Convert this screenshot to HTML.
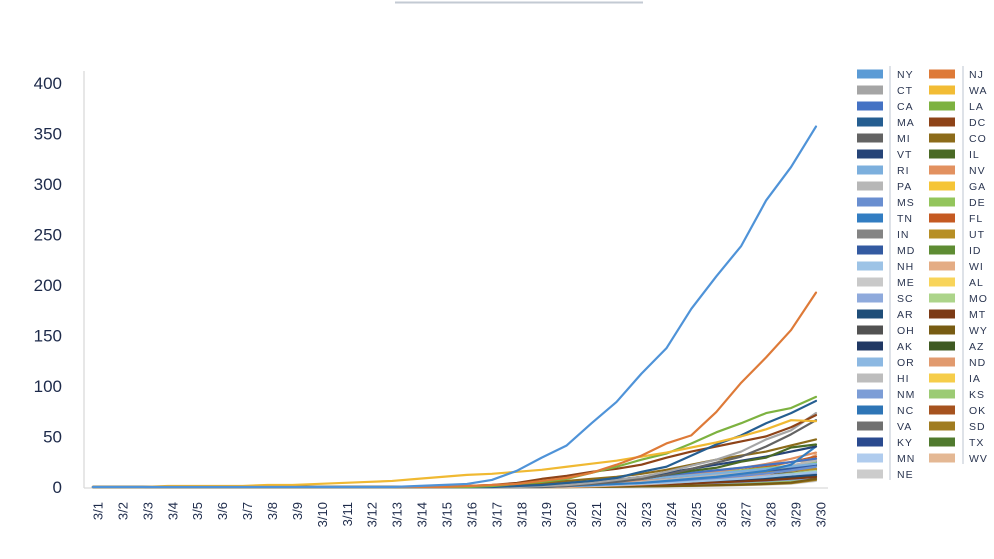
<!DOCTYPE html>
<html>
<head>
<meta charset="utf-8">
<style>
  html,body{margin:0;padding:0;background:#ffffff;}
  body{width:994px;height:559px;overflow:hidden;}
  svg{display:block;}
  .yl{font-family:"Liberation Sans",sans-serif;font-size:17px;fill:#1d2a4a;text-anchor:end;}
  .xl{font-family:"Liberation Sans",sans-serif;font-size:13px;fill:#1d2a4a;text-anchor:end;}
  .lg{font-family:"Liberation Sans",sans-serif;font-size:10.5px;fill:#2a3550;letter-spacing:1px;}
  polyline{fill:none;stroke-width:2.2;stroke-linejoin:round;stroke-linecap:round;}
</style>
</head>
<body>
<svg width="994" height="559" viewBox="0 0 994 559" xmlns="http://www.w3.org/2000/svg">
  <!-- top decorative line -->
  <line x1="395" y1="2.5" x2="643" y2="2.5" stroke="#c3cad3" stroke-width="2"/>

  <!-- axes -->
  <line x1="84" y1="71" x2="84" y2="488" stroke="#cfcfcf" stroke-width="1"/>
  <line x1="84" y1="488" x2="828" y2="488" stroke="#dadada" stroke-width="1.2"/>

  <!-- y labels -->
  <text class="yl" x="62" y="89">400</text>
  <text class="yl" x="62" y="139.5">350</text>
  <text class="yl" x="62" y="190">300</text>
  <text class="yl" x="62" y="240.5">250</text>
  <text class="yl" x="62" y="291">200</text>
  <text class="yl" x="62" y="341.5">150</text>
  <text class="yl" x="62" y="392">100</text>
  <text class="yl" x="62" y="442.5">50</text>
  <text class="yl" x="62" y="493">0</text>

  <!-- x labels -->
  <text class="xl" transform="translate(102.5,502) rotate(-90)">3/1</text>
  <text class="xl" transform="translate(127.4,502) rotate(-90)">3/2</text>
  <text class="xl" transform="translate(152.4,502) rotate(-90)">3/3</text>
  <text class="xl" transform="translate(177.3,502) rotate(-90)">3/4</text>
  <text class="xl" transform="translate(202.2,502) rotate(-90)">3/5</text>
  <text class="xl" transform="translate(227.2,502) rotate(-90)">3/6</text>
  <text class="xl" transform="translate(252.1,502) rotate(-90)">3/7</text>
  <text class="xl" transform="translate(277.0,502) rotate(-90)">3/8</text>
  <text class="xl" transform="translate(301.9,502) rotate(-90)">3/9</text>
  <text class="xl" transform="translate(326.9,502) rotate(-90)">3/10</text>
  <text class="xl" transform="translate(351.8,502) rotate(-90)">3/11</text>
  <text class="xl" transform="translate(376.7,502) rotate(-90)">3/12</text>
  <text class="xl" transform="translate(401.7,502) rotate(-90)">3/13</text>
  <text class="xl" transform="translate(426.6,502) rotate(-90)">3/14</text>
  <text class="xl" transform="translate(451.5,502) rotate(-90)">3/15</text>
  <text class="xl" transform="translate(476.5,502) rotate(-90)">3/16</text>
  <text class="xl" transform="translate(501.4,502) rotate(-90)">3/17</text>
  <text class="xl" transform="translate(526.3,502) rotate(-90)">3/18</text>
  <text class="xl" transform="translate(551.2,502) rotate(-90)">3/19</text>
  <text class="xl" transform="translate(576.2,502) rotate(-90)">3/20</text>
  <text class="xl" transform="translate(601.1,502) rotate(-90)">3/21</text>
  <text class="xl" transform="translate(626.0,502) rotate(-90)">3/22</text>
  <text class="xl" transform="translate(651.0,502) rotate(-90)">3/23</text>
  <text class="xl" transform="translate(675.9,502) rotate(-90)">3/24</text>
  <text class="xl" transform="translate(700.8,502) rotate(-90)">3/25</text>
  <text class="xl" transform="translate(725.8,502) rotate(-90)">3/26</text>
  <text class="xl" transform="translate(750.7,502) rotate(-90)">3/27</text>
  <text class="xl" transform="translate(775.6,502) rotate(-90)">3/28</text>
  <text class="xl" transform="translate(800.5,502) rotate(-90)">3/29</text>
  <text class="xl" transform="translate(825.5,502) rotate(-90)">3/30</text>

  <!-- data series -->
  <g transform="translate(93,487) scale(24.93,-1.0125)">
    <!-- small states via templates (drawn first, underneath) -->
    <polyline vector-effect="non-scaling-stroke" stroke="#CCCCCC" transform="scale(1,6)" points="0,0 19,0 20,0.02 21,0.05 22,0.08 23,0.12 24,0.17 25,0.23 26,0.3 27,0.4 28,0.55 29,1"/>
    <polyline vector-effect="non-scaling-stroke" stroke="#E4B894" transform="scale(1,30)" points="0,0 19,0 20,0.02 21,0.05 22,0.08 23,0.12 24,0.17 25,0.23 26,0.3 27,0.4 28,0.55 29,1"/>
    <polyline vector-effect="non-scaling-stroke" stroke="#B0CCEE" transform="scale(1,12)" points="0,0 17,0 18,0.03 19,0.06 20,0.1 21,0.15 22,0.21 23,0.28 24,0.36 25,0.45 26,0.55 27,0.67 28,0.82 29,1"/>
    <polyline vector-effect="non-scaling-stroke" stroke="#507A2E" transform="scale(1,14)" points="0,0 16,0 17,0.03 18,0.08 19,0.14 20,0.2 21,0.27 22,0.34 23,0.42 24,0.5 25,0.59 26,0.68 27,0.78 28,0.88 29,1"/>
    <polyline vector-effect="non-scaling-stroke" stroke="#2A4A8F" transform="scale(1,12)" points="0,0 17,0 18,0.03 19,0.06 20,0.1 21,0.15 22,0.21 23,0.28 24,0.36 25,0.45 26,0.55 27,0.67 28,0.82 29,1"/>
    <polyline vector-effect="non-scaling-stroke" stroke="#A07C20" transform="scale(1,7)" points="0,0 19,0 20,0.02 21,0.05 22,0.08 23,0.12 24,0.17 25,0.23 26,0.3 27,0.4 28,0.55 29,1"/>
    <polyline vector-effect="non-scaling-stroke" stroke="#707070" transform="scale(1,11)" points="0,0 16,0 17,0.03 18,0.08 19,0.14 20,0.2 21,0.27 22,0.34 23,0.42 24,0.5 25,0.59 26,0.68 27,0.78 28,0.88 29,1"/>
    <polyline vector-effect="non-scaling-stroke" stroke="#A6531F" transform="scale(1,15)" points="0,0 17,0 18,0.03 19,0.06 20,0.1 21,0.15 22,0.21 23,0.28 24,0.36 25,0.45 26,0.55 27,0.67 28,0.82 29,1"/>
    <polyline vector-effect="non-scaling-stroke" stroke="#2E75B6" transform="scale(1,9)" points="0,0 16,0 17,0.03 18,0.08 19,0.14 20,0.2 21,0.27 22,0.34 23,0.42 24,0.5 25,0.59 26,0.68 27,0.78 28,0.88 29,1"/>
    <polyline vector-effect="non-scaling-stroke" stroke="#9CCB74" transform="scale(1,11)" points="0,0 19,0 20,0.02 21,0.05 22,0.08 23,0.12 24,0.17 25,0.23 26,0.3 27,0.4 28,0.55 29,1"/>
    <polyline vector-effect="non-scaling-stroke" stroke="#7C9DD6" transform="scale(1,9)" points="0,0 17,0 18,0.03 19,0.06 20,0.1 21,0.15 22,0.21 23,0.28 24,0.36 25,0.45 26,0.55 27,0.67 28,0.82 29,1"/>
    <polyline vector-effect="non-scaling-stroke" stroke="#F6CD4A" transform="scale(1,13)" points="0,0 16,0 17,0.03 18,0.08 19,0.14 20,0.2 21,0.27 22,0.34 23,0.42 24,0.5 25,0.59 26,0.68 27,0.78 28,0.88 29,1"/>
    <polyline vector-effect="non-scaling-stroke" stroke="#BDBDBD" transform="scale(1,10)" points="0,0 17,0 18,0.03 19,0.06 20,0.1 21,0.15 22,0.21 23,0.28 24,0.36 25,0.45 26,0.55 27,0.67 28,0.82 29,1"/>
    <polyline vector-effect="non-scaling-stroke" stroke="#E19A6E" transform="scale(1,27)" points="0,0 19,0 20,0.02 21,0.05 22,0.08 23,0.12 24,0.17 25,0.23 26,0.3 27,0.4 28,0.55 29,1"/>
    <polyline vector-effect="non-scaling-stroke" stroke="#8CB8E2" transform="scale(1,13)" points="0,0 16,0 17,0.03 18,0.08 19,0.14 20,0.2 21,0.27 22,0.34 23,0.42 24,0.5 25,0.59 26,0.68 27,0.78 28,0.88 29,1"/>
    <polyline vector-effect="non-scaling-stroke" stroke="#3F5A22" transform="scale(1,12)" points="0,0 17,0 18,0.03 19,0.06 20,0.1 21,0.15 22,0.21 23,0.28 24,0.36 25,0.45 26,0.55 27,0.67 28,0.82 29,1"/>
    <polyline vector-effect="non-scaling-stroke" stroke="#203864" transform="scale(1,10)" points="0,0 16,0 17,0.03 18,0.08 19,0.14 20,0.2 21,0.27 22,0.34 23,0.42 24,0.5 25,0.59 26,0.68 27,0.78 28,0.88 29,1"/>
    <polyline vector-effect="non-scaling-stroke" stroke="#785C13" transform="scale(1,8)" points="0,0 19,0 20,0.02 21,0.05 22,0.08 23,0.12 24,0.17 25,0.23 26,0.3 27,0.4 28,0.55 29,1"/>
    <polyline vector-effect="non-scaling-stroke" stroke="#525252" transform="scale(1,17)" points="0,0 16,0 17,0.03 18,0.08 19,0.14 20,0.2 21,0.27 22,0.34 23,0.42 24,0.5 25,0.59 26,0.68 27,0.78 28,0.88 29,1"/>
    <polyline vector-effect="non-scaling-stroke" stroke="#7C3A15" transform="scale(1,10)" points="0,0 17,0 18,0.03 19,0.06 20,0.1 21,0.15 22,0.21 23,0.28 24,0.36 25,0.45 26,0.55 27,0.67 28,0.82 29,1"/>
    <polyline vector-effect="non-scaling-stroke" stroke="#1F4E79" transform="scale(1,12)" points="0,0 16,0 17,0.03 18,0.08 19,0.14 20,0.2 21,0.27 22,0.34 23,0.42 24,0.5 25,0.59 26,0.68 27,0.78 28,0.88 29,1"/>
    <polyline vector-effect="non-scaling-stroke" stroke="#ACD48A" transform="scale(1,16)" points="0,0 17,0 18,0.03 19,0.06 20,0.1 21,0.15 22,0.21 23,0.28 24,0.36 25,0.45 26,0.55 27,0.67 28,0.82 29,1"/>
    <polyline vector-effect="non-scaling-stroke" stroke="#8FAADC" transform="scale(1,14)" points="0,0 16,0 17,0.03 18,0.08 19,0.14 20,0.2 21,0.27 22,0.34 23,0.42 24,0.5 25,0.59 26,0.68 27,0.78 28,0.88 29,1"/>
    <polyline vector-effect="non-scaling-stroke" stroke="#F8D45A" transform="scale(1,20)" points="0,0 17,0 18,0.03 19,0.06 20,0.1 21,0.15 22,0.21 23,0.28 24,0.36 25,0.45 26,0.55 27,0.67 28,0.82 29,1"/>
    <polyline vector-effect="non-scaling-stroke" stroke="#C9C9C9" transform="scale(1,18)" points="0,0 16,0 17,0.03 18,0.08 19,0.14 20,0.2 21,0.27 22,0.34 23,0.42 24,0.5 25,0.59 26,0.68 27,0.78 28,0.88 29,1"/>
    <polyline vector-effect="non-scaling-stroke" stroke="#E4AC84" transform="scale(1,32)" points="0,0 19,0 20,0.02 21,0.05 22,0.08 23,0.12 24,0.17 25,0.23 26,0.3 27,0.4 28,0.55 29,1"/>
    <polyline vector-effect="non-scaling-stroke" stroke="#9DC3E6" transform="scale(1,15)" points="0,0 17,0 18,0.03 19,0.06 20,0.1 21,0.15 22,0.21 23,0.28 24,0.36 25,0.45 26,0.55 27,0.67 28,0.82 29,1"/>
    <polyline vector-effect="non-scaling-stroke" stroke="#5E8C33" transform="scale(1,21)" points="0,0 16,0 17,0.03 18,0.08 19,0.14 20,0.2 21,0.27 22,0.34 23,0.42 24,0.5 25,0.59 26,0.68 27,0.78 28,0.88 29,1"/>
    <polyline vector-effect="non-scaling-stroke" stroke="#335AA1" transform="scale(1,22)" points="0,0 17,0 18,0.03 19,0.06 20,0.1 21,0.15 22,0.21 23,0.28 24,0.36 25,0.45 26,0.55 27,0.67 28,0.82 29,1"/>
    <polyline vector-effect="non-scaling-stroke" stroke="#B78F25" transform="scale(1,18)" points="0,0 16,0 17,0.03 18,0.08 19,0.14 20,0.2 21,0.27 22,0.34 23,0.42 24,0.5 25,0.59 26,0.68 27,0.78 28,0.88 29,1"/>
    <polyline vector-effect="non-scaling-stroke" stroke="#848484" transform="scale(1,25)" points="0,0 17,0 18,0.03 19,0.06 20,0.1 21,0.15 22,0.21 23,0.28 24,0.36 25,0.45 26,0.55 27,0.67 28,0.82 29,1"/>
    <polyline vector-effect="non-scaling-stroke" stroke="#C55A22" transform="scale(1,30)" points="0,0 17,0 18,0.03 19,0.06 20,0.1 21,0.15 22,0.21 23,0.28 24,0.36 25,0.45 26,0.55 27,0.67 28,0.82 29,1"/>
    <polyline vector-effect="non-scaling-stroke" stroke="#93C55C" transform="scale(1,24)" points="0,0 16,0 17,0.03 18,0.08 19,0.14 20,0.2 21,0.27 22,0.34 23,0.42 24,0.5 25,0.59 26,0.68 27,0.78 28,0.88 29,1"/>
    <polyline vector-effect="non-scaling-stroke" stroke="#698ED0" transform="scale(1,20)" points="0,0 17,0 18,0.03 19,0.06 20,0.1 21,0.15 22,0.21 23,0.28 24,0.36 25,0.45 26,0.55 27,0.67 28,0.82 29,1"/>
    <polyline vector-effect="non-scaling-stroke" stroke="#F5C537" transform="scale(1,28)" points="0,0 16,0 17,0.03 18,0.08 19,0.14 20,0.2 21,0.27 22,0.34 23,0.42 24,0.5 25,0.59 26,0.68 27,0.78 28,0.88 29,1"/>
    <polyline vector-effect="non-scaling-stroke" stroke="#B7B7B7" transform="scale(1,26)" points="0,0 17,0 18,0.03 19,0.06 20,0.1 21,0.15 22,0.21 23,0.28 24,0.36 25,0.45 26,0.55 27,0.67 28,0.82 29,1"/>
    <polyline vector-effect="non-scaling-stroke" stroke="#E29160" transform="scale(1,34)" points="0,0 17,0 18,0.03 19,0.06 20,0.1 21,0.15 22,0.21 23,0.28 24,0.36 25,0.45 26,0.55 27,0.67 28,0.82 29,1"/>
    <polyline vector-effect="non-scaling-stroke" stroke="#7CAFDD" transform="scale(1,23)" points="0,0 16,0 17,0.03 18,0.08 19,0.14 20,0.2 21,0.27 22,0.34 23,0.42 24,0.5 25,0.59 26,0.68 27,0.78 28,0.88 29,1"/>
    <polyline vector-effect="non-scaling-stroke" stroke="#4472C4" transform="scale(1,28)" points="0,0 16,0 17,0.03 18,0.08 19,0.14 20,0.2 21,0.27 22,0.34 23,0.42 24,0.5 25,0.59 26,0.68 27,0.78 28,0.88 29,1"/>

    <!-- mid-tier states -->
    <polyline vector-effect="non-scaling-stroke" stroke="#327DC2" points="0,0 18,0 19,1 20,2 21,3 22,4 23,6 24,8 25,10 26,13 27,16 28,22 29,40"/>
    <polyline vector-effect="non-scaling-stroke" stroke="#264478" points="0,0 16,0 17,1 18,2 19,3 20,5 21,7 22,10 23,14 24,18 25,22 26,26 27,30 28,35 29,40"/>
    <polyline vector-effect="non-scaling-stroke" stroke="#4A6A25" points="0,0 17,0 18,1 19,2 20,4 21,6 22,8 23,12 24,16 25,19 26,25 27,29 28,39 29,42"/>
    <polyline vector-effect="non-scaling-stroke" stroke="#8C6B1A" points="0,0 15,0 16,1 17,2 18,4 19,6 20,8 21,10 22,13 23,17 24,22 25,27 26,31 27,35 28,41 29,47"/>
    <polyline vector-effect="non-scaling-stroke" stroke="#636363" points="0,0 18,0 19,1 20,3 21,5 22,8 23,12 24,18 25,24 26,30 27,40 28,52 29,66"/>
    <polyline vector-effect="non-scaling-stroke" stroke="#A5A5A5" points="0,0 17,0 18,1 19,2 20,4 21,7 22,10 23,15 24,21 25,27 26,35 27,47 28,56 29,73"/>
    <polyline vector-effect="non-scaling-stroke" stroke="#8E4318" points="0,0 14,0 15,1 16,2 17,4 18,8 19,11 20,15 21,18 22,22 23,29 24,35 25,40 26,45 27,50 28,59 29,71"/>
    <polyline vector-effect="non-scaling-stroke" stroke="#255E91" points="0,0 16,0 17,1 18,2 19,4 20,6 21,9 22,15 23,20 24,31 25,42 26,51 27,63 28,73 29,85"/>
    <polyline vector-effect="non-scaling-stroke" stroke="#7DB240" points="0,0 15,0 16,1 17,3 18,5 19,8 20,14 21,20 22,27 23,33 24,43 25,54 26,63 27,73 28,78 29,89"/>
    <polyline vector-effect="non-scaling-stroke" stroke="#F0B932" points="0,0 2,0 3,1 6,1 7,2 8,2 9,3 10,4 11,5 12,6 13,8 14,10 15,12 16,13 17,15 18,17 19,20 20,23 21,26 22,30 23,34 24,39 25,44 26,50 27,57 28,66 29,65"/>
    <polyline vector-effect="non-scaling-stroke" stroke="#DE7A38" points="0,0 14,0 15,1 16,2 17,3 18,6 19,9 20,14 21,22 22,31 23,43 24,51 25,74 26,103 27,128 28,155 29,192"/>
    <polyline vector-effect="non-scaling-stroke" stroke="#4F93D8" points="0,0 12,0 13,1 14,2 15,3 16,7 17,16 18,29 19,41 20,63 21,84 22,112 23,137 24,176 25,208 26,238 27,283 28,316 29,356"/>
  </g>

  <!-- legend separators -->
  <line x1="890" y1="66" x2="890" y2="480" stroke="#d3d9e0" stroke-width="1.5"/>
  <line x1="963" y1="66" x2="963" y2="464" stroke="#d3d9e0" stroke-width="1.5"/>

  <!-- legend left column -->
  <g>
    <rect x="857" y="69.5" width="26" height="9" fill="#5B9BD5"/><text class="lg" x="897" y="77.8">NY</text>
    <rect x="857" y="85.5" width="26" height="9" fill="#A5A5A5"/><text class="lg" x="897" y="93.8">CT</text>
    <rect x="857" y="101.5" width="26" height="9" fill="#4472C4"/><text class="lg" x="897" y="109.8">CA</text>
    <rect x="857" y="117.5" width="26" height="9" fill="#255E91"/><text class="lg" x="897" y="125.8">MA</text>
    <rect x="857" y="133.5" width="26" height="9" fill="#636363"/><text class="lg" x="897" y="141.8">MI</text>
    <rect x="857" y="149.5" width="26" height="9" fill="#264478"/><text class="lg" x="897" y="157.8">VT</text>
    <rect x="857" y="165.5" width="26" height="9" fill="#7CAFDD"/><text class="lg" x="897" y="173.8">RI</text>
    <rect x="857" y="181.5" width="26" height="9" fill="#B7B7B7"/><text class="lg" x="897" y="189.8">PA</text>
    <rect x="857" y="197.5" width="26" height="9" fill="#698ED0"/><text class="lg" x="897" y="205.8">MS</text>
    <rect x="857" y="213.5" width="26" height="9" fill="#327DC2"/><text class="lg" x="897" y="221.8">TN</text>
    <rect x="857" y="229.5" width="26" height="9" fill="#848484"/><text class="lg" x="897" y="237.8">IN</text>
    <rect x="857" y="245.5" width="26" height="9" fill="#335AA1"/><text class="lg" x="897" y="253.8">MD</text>
    <rect x="857" y="261.5" width="26" height="9" fill="#9DC3E6"/><text class="lg" x="897" y="269.8">NH</text>
    <rect x="857" y="277.5" width="26" height="9" fill="#C9C9C9"/><text class="lg" x="897" y="285.8">ME</text>
    <rect x="857" y="293.5" width="26" height="9" fill="#8FAADC"/><text class="lg" x="897" y="301.8">SC</text>
    <rect x="857" y="309.5" width="26" height="9" fill="#1F4E79"/><text class="lg" x="897" y="317.8">AR</text>
    <rect x="857" y="325.5" width="26" height="9" fill="#525252"/><text class="lg" x="897" y="333.8">OH</text>
    <rect x="857" y="341.5" width="26" height="9" fill="#203864"/><text class="lg" x="897" y="349.8">AK</text>
    <rect x="857" y="357.5" width="26" height="9" fill="#8CB8E2"/><text class="lg" x="897" y="365.8">OR</text>
    <rect x="857" y="373.5" width="26" height="9" fill="#BDBDBD"/><text class="lg" x="897" y="381.8">HI</text>
    <rect x="857" y="389.5" width="26" height="9" fill="#7C9DD6"/><text class="lg" x="897" y="397.8">NM</text>
    <rect x="857" y="405.5" width="26" height="9" fill="#2E75B6"/><text class="lg" x="897" y="413.8">NC</text>
    <rect x="857" y="421.5" width="26" height="9" fill="#707070"/><text class="lg" x="897" y="429.8">VA</text>
    <rect x="857" y="437.5" width="26" height="9" fill="#2A4A8F"/><text class="lg" x="897" y="445.8">KY</text>
    <rect x="857" y="453.5" width="26" height="9" fill="#B0CCEE"/><text class="lg" x="897" y="461.8">MN</text>
    <rect x="857" y="469.5" width="26" height="9" fill="#CCCCCC"/><text class="lg" x="897" y="477.8">NE</text>
  </g>

  <!-- legend right column -->
  <g>
    <rect x="929" y="69.5" width="26" height="9" fill="#DE7A38"/><text class="lg" x="969" y="77.8">NJ</text>
    <rect x="929" y="85.5" width="26" height="9" fill="#F2BC35"/><text class="lg" x="969" y="93.8">WA</text>
    <rect x="929" y="101.5" width="26" height="9" fill="#7DB240"/><text class="lg" x="969" y="109.8">LA</text>
    <rect x="929" y="117.5" width="26" height="9" fill="#8E4318"/><text class="lg" x="969" y="125.8">DC</text>
    <rect x="929" y="133.5" width="26" height="9" fill="#8C6B1A"/><text class="lg" x="969" y="141.8">CO</text>
    <rect x="929" y="149.5" width="26" height="9" fill="#4A6A25"/><text class="lg" x="969" y="157.8">IL</text>
    <rect x="929" y="165.5" width="26" height="9" fill="#E29160"/><text class="lg" x="969" y="173.8">NV</text>
    <rect x="929" y="181.5" width="26" height="9" fill="#F5C537"/><text class="lg" x="969" y="189.8">GA</text>
    <rect x="929" y="197.5" width="26" height="9" fill="#93C55C"/><text class="lg" x="969" y="205.8">DE</text>
    <rect x="929" y="213.5" width="26" height="9" fill="#C55A22"/><text class="lg" x="969" y="221.8">FL</text>
    <rect x="929" y="229.5" width="26" height="9" fill="#B78F25"/><text class="lg" x="969" y="237.8">UT</text>
    <rect x="929" y="245.5" width="26" height="9" fill="#5E8C33"/><text class="lg" x="969" y="253.8">ID</text>
    <rect x="929" y="261.5" width="26" height="9" fill="#E4AC84"/><text class="lg" x="969" y="269.8">WI</text>
    <rect x="929" y="277.5" width="26" height="9" fill="#F8D45A"/><text class="lg" x="969" y="285.8">AL</text>
    <rect x="929" y="293.5" width="26" height="9" fill="#ACD48A"/><text class="lg" x="969" y="301.8">MO</text>
    <rect x="929" y="309.5" width="26" height="9" fill="#7C3A15"/><text class="lg" x="969" y="317.8">MT</text>
    <rect x="929" y="325.5" width="26" height="9" fill="#785C13"/><text class="lg" x="969" y="333.8">WY</text>
    <rect x="929" y="341.5" width="26" height="9" fill="#3F5A22"/><text class="lg" x="969" y="349.8">AZ</text>
    <rect x="929" y="357.5" width="26" height="9" fill="#E19A6E"/><text class="lg" x="969" y="365.8">ND</text>
    <rect x="929" y="373.5" width="26" height="9" fill="#F6CD4A"/><text class="lg" x="969" y="381.8">IA</text>
    <rect x="929" y="389.5" width="26" height="9" fill="#9CCB74"/><text class="lg" x="969" y="397.8">KS</text>
    <rect x="929" y="405.5" width="26" height="9" fill="#A6531F"/><text class="lg" x="969" y="413.8">OK</text>
    <rect x="929" y="421.5" width="26" height="9" fill="#A07C20"/><text class="lg" x="969" y="429.8">SD</text>
    <rect x="929" y="437.5" width="26" height="9" fill="#507A2E"/><text class="lg" x="969" y="445.8">TX</text>
    <rect x="929" y="453.5" width="26" height="9" fill="#E4B894"/><text class="lg" x="969" y="461.8">WV</text>
  </g>
</svg>
</body>
</html>
